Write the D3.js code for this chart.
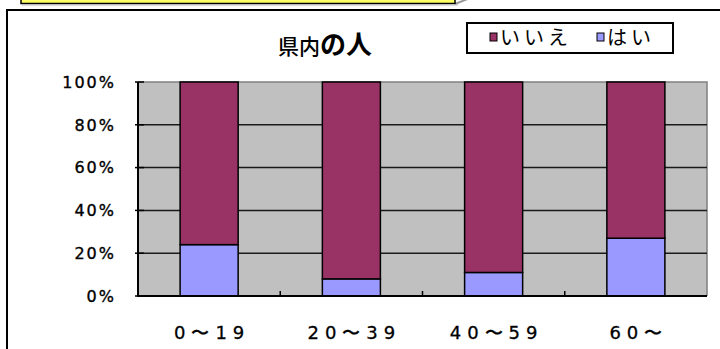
<!DOCTYPE html>
<html><head><meta charset="utf-8">
<script src="https://cdn.jsdelivr.net/npm/d3@7"></script>
<style>body{margin:0;background:#fff;}svg{display:block;}</style>
</head><body>
<svg id="c" width="720" height="349"></svg>
<script>
const categories = ["0〜19", "20〜39", "40〜59", "60〜"];
const yesValues = [24, 8, 11, 27];      // はい
const noValues  = [76, 92, 89, 73];     // いいえ
const yTicks = [0, 20, 40, 60, 80, 100];
const seriesNames = ["いいえ", "はい"];
const seriesColors = ["#993366", "#9999FF"];

const svg = d3.select("#c");
const L = 138, R = 707, T = 82, B = 296;

// callout remnant at top
svg.append("path").attr("d","M455,4 L470,-2").attr("stroke","#999").attr("stroke-width",2).attr("fill","none");
svg.append("rect").attr("x",21).attr("y",-10).attr("width",434).attr("height",13.5)
  .attr("fill","#FFFF66").attr("stroke","#000").attr("stroke-width",1.5);
svg.append("line").attr("x1",22).attr("x2",458).attr("y1",5).attr("y2",5).attr("stroke","#bbb").attr("stroke-width",1);

// outer frame
svg.append("rect").attr("x",7).attr("y",10).attr("width",740).attr("height",360)
  .attr("fill","#fff").attr("stroke","#000").attr("stroke-width",2);

const x = d3.scaleBand().domain(categories).range([L, R]).paddingInner(0.592).paddingOuter(0.296);
const y = d3.scaleLinear().domain([0, 100]).range([B, T]);

// plot background
svg.append("rect").attr("x",L).attr("y",T).attr("width",R-L).attr("height",B-T).attr("fill","#C0C0C0");
// top & right border (gray)
svg.append("path").attr("d",`M${L},${T}H${R}V${B}`).attr("fill","none").attr("stroke","#808080").attr("stroke-width",1.5);
// gridlines
svg.append("g").selectAll("line").data(yTicks.filter(v=>v>0 && v<100)).join("line")
  .attr("x1",L).attr("x2",R).attr("y1",d=>y(d)).attr("y2",d=>y(d))
  .attr("stroke","#1a1a1a").attr("stroke-width",1.5);

// stacked bars
const stackData = categories.map((c,i)=>({cat:c, yes:yesValues[i], no:noValues[i]}));
const stack = d3.stack().keys(["yes","no"])(stackData);
const colorFor = {yes: seriesColors[1], no: seriesColors[0]};
svg.append("g").selectAll("g").data(stack).join("g")
  .attr("fill", d=>colorFor[d.key])
  .selectAll("rect").data(d=>d).join("rect")
  .attr("x", d=>x(d.data.cat)).attr("width", x.bandwidth())
  .attr("y", d=>y(d[1])).attr("height", d=>y(d[0])-y(d[1]))
  .attr("stroke","#000").attr("stroke-width",1.5);

// axes lines
svg.append("line").attr("x1",L).attr("x2",L).attr("y1",T).attr("y2",B).attr("stroke","#000").attr("stroke-width",2);
svg.append("line").attr("x1",L-1).attr("x2",R).attr("y1",B).attr("y2",B).attr("stroke","#000").attr("stroke-width",2);
// y small ticks
svg.append("g").selectAll("line").data(yTicks).join("line")
  .attr("x1",L-3).attr("x2",L+6).attr("y1",d=>y(d)).attr("y2",d=>y(d)).attr("stroke","#000").attr("stroke-width",1.5);
// x inner ticks at category boundaries
const step = x.step();
svg.append("g").selectAll("line").data(d3.range(1, categories.length)).join("line")
  .attr("x1",d=>L+d*step).attr("x2",d=>L+d*step).attr("y1",B).attr("y2",B-5)
  .attr("stroke","#000").attr("stroke-width",1.5);

// y labels
svg.append("g").selectAll("text").data(yTicks).join("text")
  .attr("x",114+2).attr("y",d=>y(d)).attr("dy","0.36em").attr("text-anchor","end")
  .attr("font-family","DejaVu Sans, sans-serif").attr("font-size",16)
  .attr("letter-spacing",2).attr("fill","#000").attr("stroke","#000").attr("stroke-width",0.35)
  .text(d=>d+"%");

// x labels
svg.append("g").selectAll("text").data(categories).join("text")
  .attr("x",d=>x(d)+x.bandwidth()/2+3).attr("y",339).attr("text-anchor","middle")
  .attr("font-family","DejaVu Sans, sans-serif").attr("font-size",18)
  .attr("letter-spacing",6).attr("fill","#000").attr("stroke","#000").attr("stroke-width",0.3)
  .text(d=>d);

// title
const title = svg.append("text").attr("x",325).attr("y",54).attr("text-anchor","middle")
  .attr("font-family","Noto Sans CJK JP, sans-serif").attr("fill","#000");
title.append("tspan").attr("font-size",21).attr("font-weight",500).text("県内");
title.append("tspan").attr("font-size",26).attr("font-weight","bold").text("の人");

// legend
svg.append("rect").attr("x",467).attr("y",23).attr("width",206).attr("height",30)
  .attr("fill","#fff").attr("stroke","#000").attr("stroke-width",2);
const legX = [490, 597];
const lg = svg.append("g").selectAll("g").data(seriesNames).join("g")
  .attr("transform",(d,i)=>`translate(${legX[i]},33)`);
lg.append("rect").attr("width",7).attr("height",8).attr("fill",(d,i)=>seriesColors[i]).attr("stroke","#000").attr("stroke-width",1);
lg.append("text").attr("x",10).attr("y",12).attr("font-family","Noto Sans CJK JP, sans-serif")
  .attr("font-size",20).attr("letter-spacing",4).text(d=>d);
</script>
</body></html>
